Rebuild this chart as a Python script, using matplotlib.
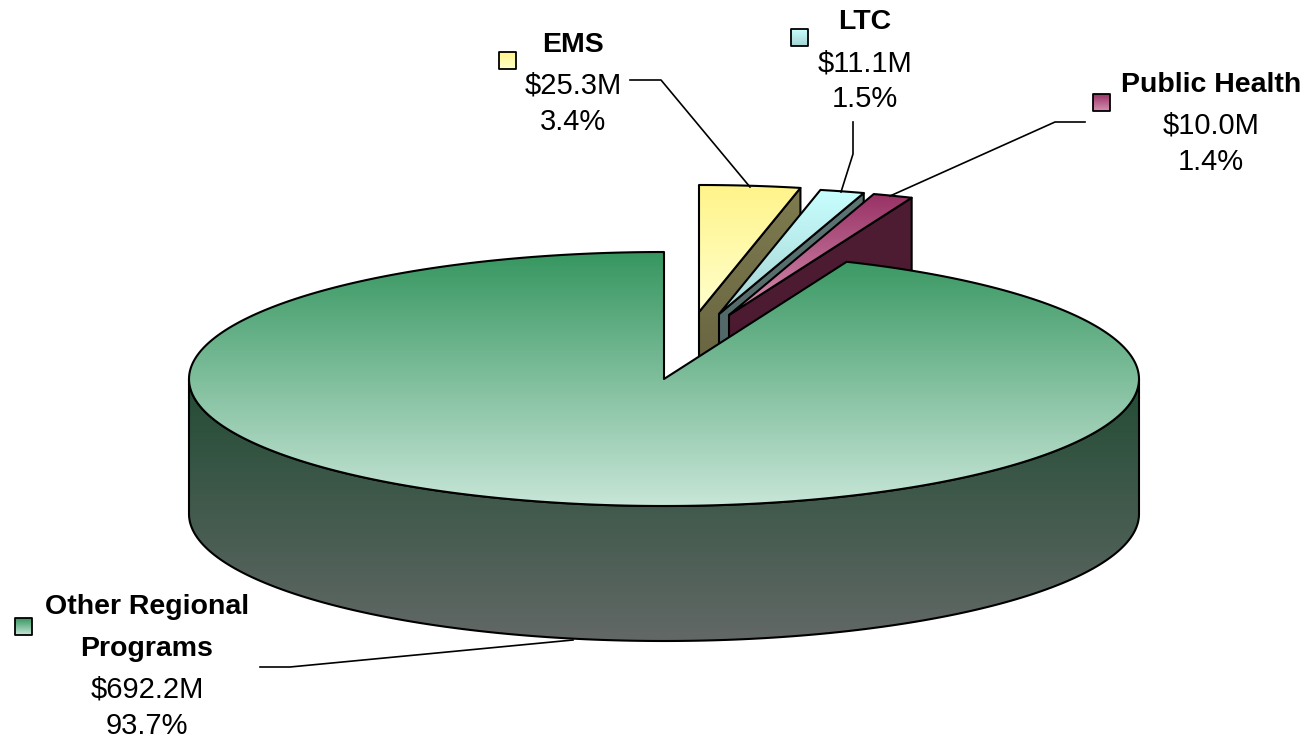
import numpy as np
import matplotlib.pyplot as plt
from matplotlib.patches import Polygon
from matplotlib.colors import to_rgb

plt.rcParams['font.family'] = ['Liberation Sans', 'DejaVu Sans']

# data
names = ['EMS', 'LTC', 'Public Health', 'Other Regional\nPrograms']
amounts = [25.3, 11.1, 10.0, 692.2]
amount_labels = ['$25.3M', '$11.1M', '$10.0M', '$692.2M']
pct_labels = ['3.4%', '1.5%', '1.4%', '93.7%']

# styling
top_colors = [('#fff48a', '#ffffcc'), ('#c8ffff', '#a6d2d2'),
              ('#983265', '#d690b2'), ('#369660', '#c8e6d8')]
side_colors = [('#7e7b4f', '#5f5b3b'), ('#5c7474', '#4c6060'),
               ('#4e1c33', '#4a1a30'), ('#224c34', '#626866')]
explode = [(35, -67), (55, -65), (65, -64), (0, 0)]
label_pos = [(573, 45), (865, 22), (1211, 85), (147, 607)]
marker_pos = [(499, 52), (791, 29), (1093, 94), (15, 618)]
leaders = [[(630, 80), (661, 80), (750, 187)],
           [(853, 122), (853, 154), (841, 192)],
           [(1085, 122), (1055, 122), (890, 196)],
           [(260, 667), (290, 667), (573, 640)]]

cx, cy = 664, 379
rx, ry = 475, 127
depth = 135


def rim(t, dx=0, dy=0, dz=0):
    t = np.radians(np.atleast_1d(t))
    return np.column_stack([cx + dx + rx * np.sin(t), cy + dy - ry * np.cos(t) + dz])


def shade(ax, verts, c1, c2, z, y0=None, y1=None, lw=1.5):
    verts = np.asarray(verts)
    poly = Polygon(verts, closed=True, fc='none', ec='black', lw=lw,
                   joinstyle='round', zorder=z + 0.5)
    ax.add_patch(poly)
    if y0 is None:
        y0, y1 = verts[:, 1].min(), verts[:, 1].max()
    x0, x1 = verts[:, 0].min(), verts[:, 0].max()
    a, b = np.array(to_rgb(c1)), np.array(to_rgb(c2))
    g = np.linspace(0, 1, 256)[:, None, None]
    img = a + (b - a) * g
    im = ax.imshow(img, extent=(x0, x1, y1, y0), origin='upper', aspect='auto',
                   interpolation='bilinear', zorder=z)
    im.set_clip_path(poly)


fig = plt.figure(figsize=(13.08, 7.42), dpi=100)
ax = fig.add_axes([0, 0, 1, 1])

total = sum(amounts)
bounds = np.concatenate([[0], np.cumsum(amounts) / total * 360])

z = 1
# exploded back slices
for i in range(3):
    a1, a2 = bounds[i], bounds[i + 1]
    dx, dy = explode[i]
    apex = np.array([[cx + dx, cy + dy]])
    face = np.vstack([apex, rim(a2, dx, dy), rim(a2, dx, dy, depth), apex + [0, depth]])
    shade(ax, face, side_colors[i][0], side_colors[i][1], z)
    z += 1
    arc = rim(np.linspace(a1, a2, 30), dx, dy)
    shade(ax, np.vstack([apex, arc]), top_colors[i][0], top_colors[i][1], z)
    z += 1

# big slice: side then top
front = rim(np.linspace(90, 270, 200))
back = rim(np.linspace(270, 90, 200), dz=depth)
shade(ax, np.vstack([front, back]), side_colors[3][0], side_colors[3][1], z,
      cy, cy + ry + depth)
z += 1
arc = rim(np.linspace(bounds[3], 360, 400))
shade(ax, np.vstack([[[cx, cy]], arc]), top_colors[3][0], top_colors[3][1], z,
      cy - ry, cy + ry)
z += 1

# labels, legend keys and leader lines
for i in range(4):
    x, y = label_pos[i]
    lines = names[i].split('\n')
    for k, s in enumerate(lines):
        ax.text(x, y + k * 42, s, ha='center', va='center', fontsize=20.5,
                fontweight='bold', zorder=z)
    y = y + (len(lines) - 1) * 42
    ax.text(x, y + 41, amount_labels[i], ha='center', va='center', fontsize=21, zorder=z)
    ax.text(x, y + 77, pct_labels[i], ha='center', va='center', fontsize=21, zorder=z)

    mx, my = marker_pos[i]
    sq = [(mx, my), (mx + 17, my), (mx + 17, my + 17), (mx, my + 17)]
    shade(ax, sq, top_colors[i][0], top_colors[i][1], z, lw=1.3)

    pts = np.array(leaders[i])
    ax.plot(pts[:, 0], pts[:, 1], color='black', lw=1.2, zorder=z + 1)

ax.set_xlim(0, 1308)
ax.set_ylim(742, 0)
ax.axis('off')

plt.savefig('out.png', dpi=100)
